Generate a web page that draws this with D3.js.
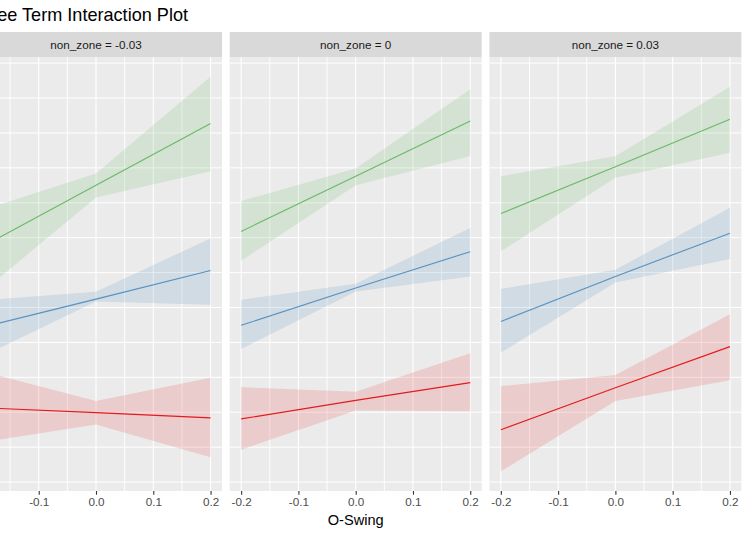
<!DOCTYPE html>
<html>
<head>
<meta charset="UTF-8">
<title>Three Term Interaction Plot</title>
<script src="https://d3js.org/d3.v7.min.js"></script>
<style>
  body { margin: 0; background: #fff; }
  text { font-family: "Liberation Sans", Arial, sans-serif; }
</style>
</head>
<body>
<svg id="chart" width="750" height="536"></svg>
<script>
// x values the effects were computed at
var oswing = [-0.2, 0.0, 0.2];
// facet levels
var nonZone = ["-0.03", "0", "0.03"];
// grouping levels (legend is outside the picture)
var groupLevels = ["low", "mid", "high"];
var groupColors = ["#E41A1C", "#377EB8", "#4DAF4A"];

// fitted values, one row per facet, one value per oswing
var fitLow  = [[0.7113, 0.7099, 0.7084], [0.7081, 0.7134, 0.7185], [0.7050, 0.7170, 0.7288]];
var loLow   = [[0.7014, 0.7065, 0.6971], [0.6993, 0.7105, 0.7103], [0.6931, 0.7132, 0.7192]];
var hiLow   = [[0.7218, 0.7132, 0.7199], [0.7172, 0.7159, 0.7269], [0.7175, 0.7207, 0.7381]];

var fitMid  = [[0.7343, 0.7424, 0.7506], [0.7349, 0.7456, 0.7560], [0.7360, 0.7489, 0.7613]];
var loMid   = [[0.7259, 0.7417, 0.7408], [0.7281, 0.7446, 0.7489], [0.7271, 0.7472, 0.7539]];
var hiMid   = [[0.7420, 0.7445, 0.7598], [0.7422, 0.7468, 0.7628], [0.7453, 0.7508, 0.7686]];

var fitHigh = [[0.7573, 0.7750, 0.7927], [0.7618, 0.7776, 0.7934], [0.7669, 0.7803, 0.7939]];
var loHigh  = [[0.7443, 0.7715, 0.7790], [0.7534, 0.7750, 0.7834], [0.7561, 0.7772, 0.7843]];
var hiHigh  = [[0.7678, 0.7784, 0.8061], [0.7705, 0.7798, 0.8025], [0.7776, 0.7833, 0.8032]];

var xTicks = [-0.2, -0.1, 0.0, 0.1, 0.2];
var xMinor = [-0.15, -0.05, 0.05, 0.15];

var fits = [fitLow, fitMid, fitHigh];
var los = [loLow, loMid, loHigh];
var his = [hiLow, hiMid, hiHigh];

var svg = d3.select("#chart");

var panelW = 252, gap = 7.7, firstLeft = -30;
var stripTop = 32, stripH = 25;
var panelTop = stripTop + stripH, panelBottom = 491;

// ggplot style 5% expansion of the data range
function expand(ext) {
    var d = (ext[1] - ext[0]) * 0.05;
    return [ext[0] - d, ext[1] + d];
}
var allY = d3.merge([d3.merge(loLow), d3.merge(hiLow), d3.merge(loMid), d3.merge(hiMid), d3.merge(loHigh), d3.merge(hiHigh)]);
var y = d3.scaleLinear().domain(expand(d3.extent(allY))).range([panelBottom, panelTop]);
var yGrid = d3.range(0.69, 0.8101, 0.01);

// title
svg.append("text")
    .attr("x", 188).attr("y", 21)
    .attr("text-anchor", "end")
    .attr("font-size", 18.1)
    .attr("fill", "#000")
    .text("Three Term Interaction Plot");

nonZone.forEach(function (nz, p) {
    var left = firstLeft + p * (panelW + gap);
    var x = d3.scaleLinear().domain(expand([-0.2, 0.2])).range([left, left + panelW]);

    // strip
    svg.append("rect")
        .attr("x", left).attr("y", stripTop)
        .attr("width", panelW).attr("height", stripH)
        .attr("fill", "#D9D9D9");
    svg.append("text")
        .attr("x", left + panelW / 2).attr("y", stripTop + stripH / 2 + 4.2)
        .attr("text-anchor", "middle")
        .attr("font-size", 11.7)
        .attr("fill", "#1A1A1A")
        .text("non_zone = " + nz);

    // panel background + grid
    svg.append("rect")
        .attr("x", left).attr("y", panelTop)
        .attr("width", panelW).attr("height", panelBottom - panelTop)
        .attr("fill", "#EBEBEB");

    var g = svg.append("g");
    g.selectAll("line.hgrid").data(yGrid).enter().append("line")
        .attr("x1", left).attr("x2", left + panelW)
        .attr("y1", function (d) { return y(d); })
        .attr("y2", function (d) { return y(d); })
        .attr("stroke", "#fff").attr("stroke-width", 1);
    g.selectAll("line.vminor").data(xMinor).enter().append("line")
        .attr("y1", panelTop).attr("y2", panelBottom)
        .attr("x1", function (d) { return x(d); })
        .attr("x2", function (d) { return x(d); })
        .attr("stroke", "#fff").attr("stroke-width", 0.9);
    g.selectAll("line.vmajor").data(xTicks).enter().append("line")
        .attr("y1", panelTop).attr("y2", panelBottom)
        .attr("x1", function (d) { return x(d); })
        .attr("x2", function (d) { return x(d); })
        .attr("stroke", "#fff").attr("stroke-width", 1.1);

    // ribbons then lines
    groupLevels.forEach(function (lv, k) {
        var pts = oswing.map(function (xv, i) {
            return {x: xv, fit: fits[k][p][i], lo: los[k][p][i], hi: his[k][p][i]};
        });
        var area = d3.area()
            .x(function (d) { return x(d.x); })
            .y0(function (d) { return y(d.lo); })
            .y1(function (d) { return y(d.hi); });
        g.append("path").datum(pts)
            .attr("d", area)
            .attr("fill", groupColors[k])
            .attr("fill-opacity", 0.15);
    });
    groupLevels.forEach(function (lv, k) {
        var pts = oswing.map(function (xv, i) {
            return {x: xv, fit: fits[k][p][i]};
        });
        var line = d3.line()
            .x(function (d) { return x(d.x); })
            .y(function (d) { return y(d.fit); });
        g.append("path").datum(pts)
            .attr("d", line)
            .attr("fill", "none")
            .attr("stroke", groupColors[k])
            .attr("stroke-opacity", k == 0 ? 1 : 0.8)
            .attr("stroke-width", 1.1);
    });

    // x axis
    var ax = svg.append("g")
        .attr("transform", "translate(0," + panelBottom + ")")
        .call(d3.axisBottom(x).tickValues(xTicks).tickFormat(d3.format(".1f")).tickSize(3.7).tickPadding(3));
    ax.select(".domain").remove();
    ax.selectAll(".tick line").attr("stroke", "#333333").attr("stroke-width", 1.1);
    ax.selectAll(".tick text")
        .attr("fill", "#4D4D4D")
        .attr("font-size", 11.7)
        .attr("font-family", "Liberation Sans, Arial, sans-serif")
        .text(function (d) { return d3.format(".1f")(d).replace("−", "-"); });
});

// x axis title, centred under the middle panel
svg.append("text")
    .attr("x", firstLeft + 1.5 * panelW + gap).attr("y", 525)
    .attr("text-anchor", "middle")
    .attr("font-size", 14.6)
    .attr("fill", "#000")
    .text("O-Swing");
</script>
</body>
</html>
